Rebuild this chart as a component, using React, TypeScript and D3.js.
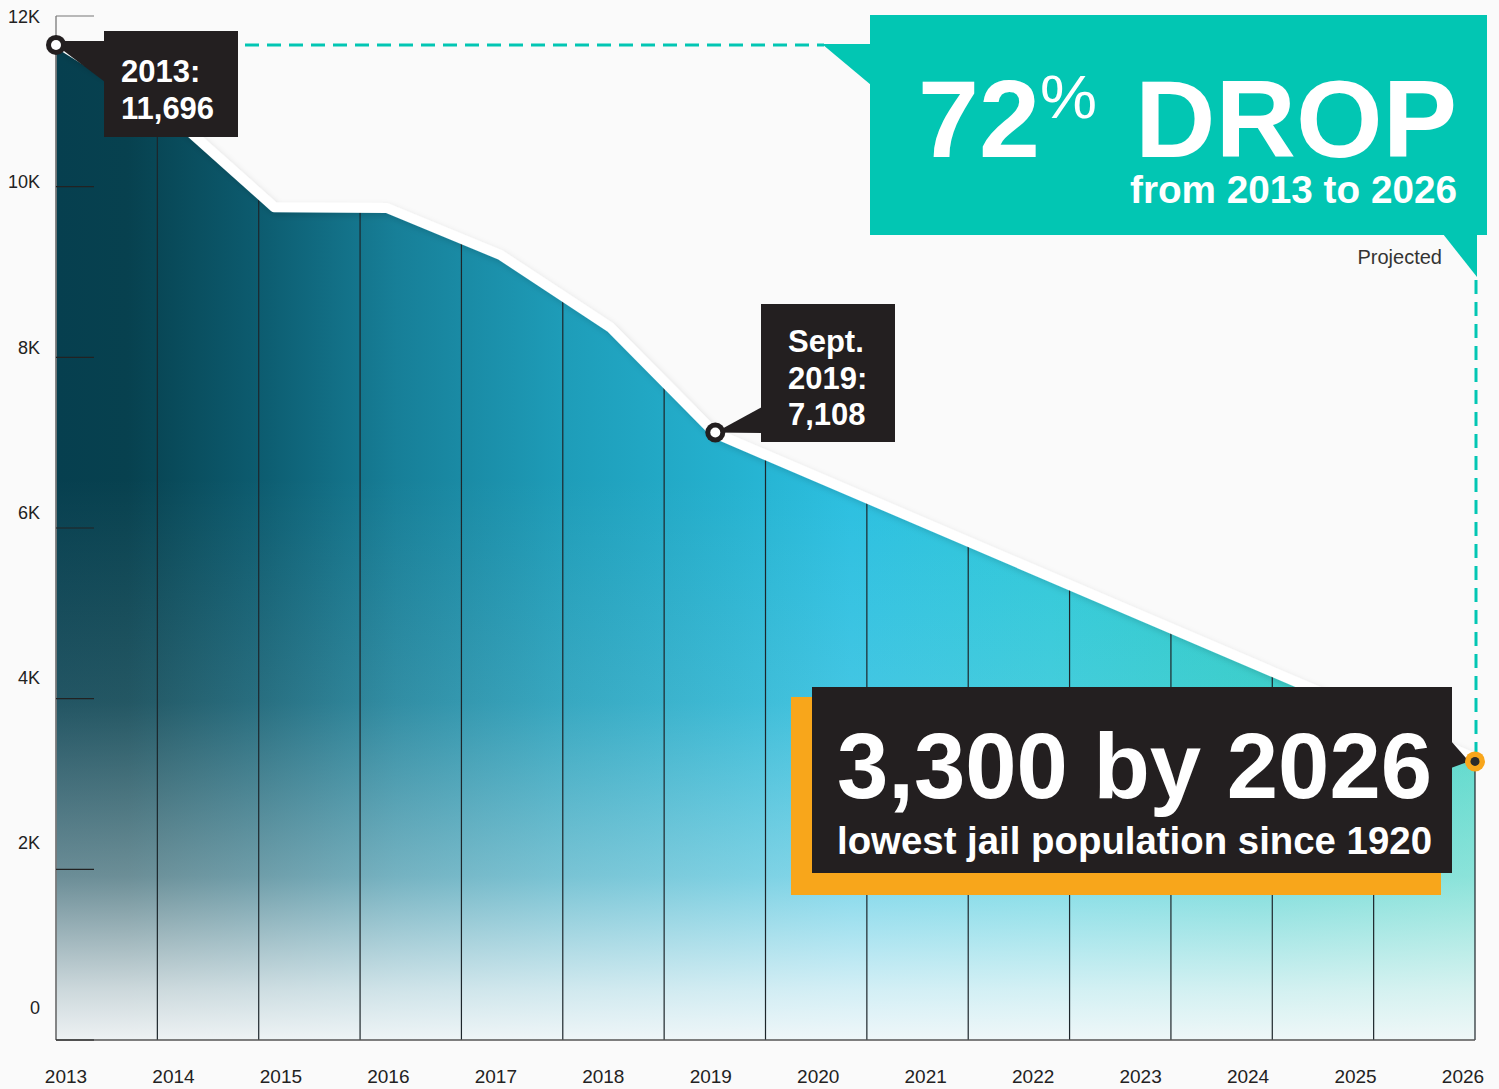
import { useMemo } from "react";
import * as d3 from "d3";

// jail population (x = fractional year)
const lineYears = [2013, 2014, 2015, 2016.03, 2017.07, 2018.08, 2019.04, 2026];
const lineValues = [11696, 10900, 9760, 9750, 9200, 8350, 7108, 3300];

const years = d3.range(2013, 2027);
const yTickValues = [0, 2000, 4000, 6000, 8000, 10000, 12000];
const yTickLabels = ["0", "2K", "4K", "6K", "8K", "10K", "12K"];
// the original splits the plot into 14 equal columns, not one per year
const gridCols = d3.range(0, 15);

const W = 1499;
const H = 1089;
const FONT = "'Liberation Sans', Arial, Helvetica, sans-serif";
const TEAL = "#02c6b3";
const DARK = "#231f20";
const ORANGE = "#f8a61b";

export default function App() {
  const x = d3.scaleLinear().domain([2013, 2026]).range([56, 1475]);
  const y = d3.scaleLinear().domain([0, 12000]).range([1040, 16]);
  // labels in the original sit on their own, slightly tighter grid
  const yLabel = d3.scaleLinear().domain([0, 12000]).range([1008, 17]);
  const xLabel = d3.scalePoint<string>().domain(years.map(String)).range([66, 1463]);
  const gridX = d3.scaleLinear().domain([0, 14]).range([56, 1475]);
  const valueAt = d3.scaleLinear().domain(lineYears).range(lineValues);

  const pts = lineYears.map((t, i) => [t, lineValues[i]] as [number, number]);

  const { areaPath, linePath } = useMemo(() => {
    const area = d3
      .area<[number, number]>()
      .x((d) => x(d[0]))
      .y0(y(0))
      .y1((d) => y(d[1]) + 4);
    const line = d3
      .line<[number, number]>()
      .x((d) => x(d[0]))
      .y((d) => y(d[1]));
    return { areaPath: area(pts) ?? "", linePath: line(pts) ?? "" };
  }, []);

  const p2013 = [x(2013), y(11696) + 3];
  const p2019 = [x(2019.04), y(7108) - 1];
  const p2026 = [x(2026), y(3300) + 3];

  return (
    <svg
      width={W}
      height={H}
      style={{ position: "absolute", left: 0, top: 0, background: "#fafafa" }}
      fontFamily={FONT}
    >
      <defs>
        <linearGradient id="hz" gradientUnits="userSpaceOnUse" x1={56} x2={1475} y1={0} y2={0}>
          <stop offset="0" stopColor="#063f4f" />
          <stop offset="0.05" stopColor="#07414f" />
          <stop offset="0.15" stopColor="#0d5e72" />
          <stop offset="0.24" stopColor="#177f98" />
          <stop offset="0.36" stopColor="#1e9db9" />
          <stop offset="0.48" stopColor="#25b2d0" />
          <stop offset="0.56" stopColor="#2bbfe0" />
          <stop offset="0.7" stopColor="#2cc7d8" />
          <stop offset="0.85" stopColor="#27c9c6" />
          <stop offset="1" stopColor="#3dd3c2" />
        </linearGradient>
        <linearGradient id="fade" gradientUnits="userSpaceOnUse" x1={0} x2={0} y1={16} y2={1040}>
          <stop offset="0" stopColor="#f7f9fa" stopOpacity={0} />
          <stop offset="0.45" stopColor="#f7f9fa" stopOpacity={0} />
          <stop offset="0.67" stopColor="#f7f9fa" stopOpacity={0.12} />
          <stop offset="0.84" stopColor="#f7f9fa" stopOpacity={0.42} />
          <stop offset="0.95" stopColor="#f7f9fa" stopOpacity={0.82} />
          <stop offset="1" stopColor="#f7f9fa" stopOpacity={0.96} />
        </linearGradient>
        <filter id="shadow" x="-5%" y="-5%" width="110%" height="120%">
          <feDropShadow dx={2} dy={3} stdDeviation={3} floodColor="#000" floodOpacity={0.14} />
        </filter>
      </defs>

      {/* area */}
      <path d={areaPath} fill="url(#hz)" />
      <path d={areaPath} fill="url(#fade)" />

      {/* column lines, clipped to the area top */}
      {gridCols.map((c) => (
        <line
          key={c}
          x1={gridX(c)}
          x2={gridX(c)}
          y1={y(0)}
          y2={y(valueAt(x.invert(gridX(c)))) + 4}
          stroke="#1d262b"
          strokeWidth={1.2}
        />
      ))}

      {/* left axis + ticks */}
      <line x1={56} x2={56} y1={y(12000)} y2={y(0)} stroke="#8a8a8a" strokeWidth={1.5} />
      <line x1={56} x2={x(2026)} y1={y(0)} y2={y(0)} stroke="#555" strokeWidth={1.5} />
      {yTickValues.map((v) => (
        <line key={v} x1={56} x2={94} y1={y(v)} y2={y(v)} stroke={v === 12000 ? "#777" : "#222"} strokeWidth={1.2} />
      ))}
      {yTickValues.map((v, i) => (
        <text
          key={v}
          x={40}
          y={yLabel(v)}
          dy="0.35em"
          textAnchor="end"
          fontSize={18}
          fill="#222"
        >
          {yTickLabels[i]}
        </text>
      ))}
      {years.map((yr) => (
        <text key={yr} x={xLabel(String(yr))} y={1083} textAnchor="middle" fontSize={19} fill="#222">
          {yr}
        </text>
      ))}

      {/* white line */}
      <path
        d={linePath}
        fill="none"
        stroke="#fff"
        strokeWidth={10}
        strokeLinejoin="round"
        filter="url(#shadow)"
      />

      {/* dashed guides */}
      <line x1={245} x2={824} y1={45} y2={45} stroke={TEAL} strokeWidth={3} strokeDasharray="14 8" />
      <line x1={1476} x2={1476} y1={280} y2={752} stroke={TEAL} strokeWidth={3} strokeDasharray="14 8" />

      {/* 72% DROP box */}
      <polygon points="822,44 871,44 871,85" fill={TEAL} />
      <polygon points="1443,234 1477,234 1477,277" fill={TEAL} />
      <rect x={870} y={15} width={617} height={220} fill={TEAL} />
      <text x={918} y={157} fontSize={110} fontWeight="bold" fill="#fff" textLength={122} lengthAdjust="spacingAndGlyphs">
        72
      </text>
      <text x={1040} y={118} fontSize={62} fill="#fff" textLength={57} lengthAdjust="spacingAndGlyphs">
        %
      </text>
      <text x={1135} y={157} fontSize={110} fontWeight="bold" fill="#fff" textLength={322} lengthAdjust="spacingAndGlyphs">
        DROP
      </text>
      <text x={1130} y={203} fontSize={38} fontWeight="bold" fill="#fff" textLength={327} lengthAdjust="spacingAndGlyphs">
        from 2013 to 2026
      </text>
      <text x={1442} y={264} fontSize={20} textAnchor="end" fill="#333">
        Projected
      </text>

      {/* 2013 callout */}
      <polygon points={`${p2013[0]},41 105,41 105,82 ${p2013[0]},${p2013[1]}`} fill={DARK} />
      <rect x={104} y={31} width={134} height={106} fill={DARK} />
      <text x={121} y={82} fontSize={31} fontWeight="bold" fill="#fff">2013:</text>
      <text x={121} y={119} fontSize={31} fontWeight="bold" fill="#fff">11,696</text>
      <circle cx={p2013[0]} cy={p2013[1]} r={10} fill={DARK} />
      <circle cx={p2013[0]} cy={p2013[1]} r={5} fill="#fff" />

      {/* Sept 2019 callout */}
      <polygon points={`${p2019[0]},${p2019[1]} 762,407 762,433`} fill={DARK} />
      <rect x={761} y={304} width={134} height={138} fill={DARK} />
      <text x={788} y={352} fontSize={31} fontWeight="bold" fill="#fff">Sept.</text>
      <text x={788} y={389} fontSize={31} fontWeight="bold" fill="#fff">2019:</text>
      <text x={788} y={425} fontSize={31} fontWeight="bold" fill="#fff">7,108</text>
      <circle cx={p2019[0]} cy={p2019[1]} r={10} fill={DARK} />
      <circle cx={p2019[0]} cy={p2019[1]} r={5} fill="#fff" />

      {/* 3,300 by 2026 callout */}
      <rect x={791} y={697} width={650} height={198} fill={ORANGE} />
      <polygon points={`1451,741 ${p2026[0] - 6},${p2026[1]} 1451,768`} fill={DARK} />
      <rect x={812} y={687} width={640} height={186} fill={DARK} />
      <text x={837} y={798} fontSize={92} fontWeight="bold" fill="#fff" textLength={595} lengthAdjust="spacingAndGlyphs">
        3,300 by 2026
      </text>
      <text x={837} y={854} fontSize={38} fontWeight="bold" fill="#fff" textLength={595} lengthAdjust="spacingAndGlyphs">
        lowest jail population since 1920
      </text>
      <circle cx={p2026[0]} cy={p2026[1]} r={10} fill={ORANGE} />
      <circle cx={p2026[0]} cy={p2026[1]} r={4.5} fill="#2b2b2b" />
    </svg>
  );
}
